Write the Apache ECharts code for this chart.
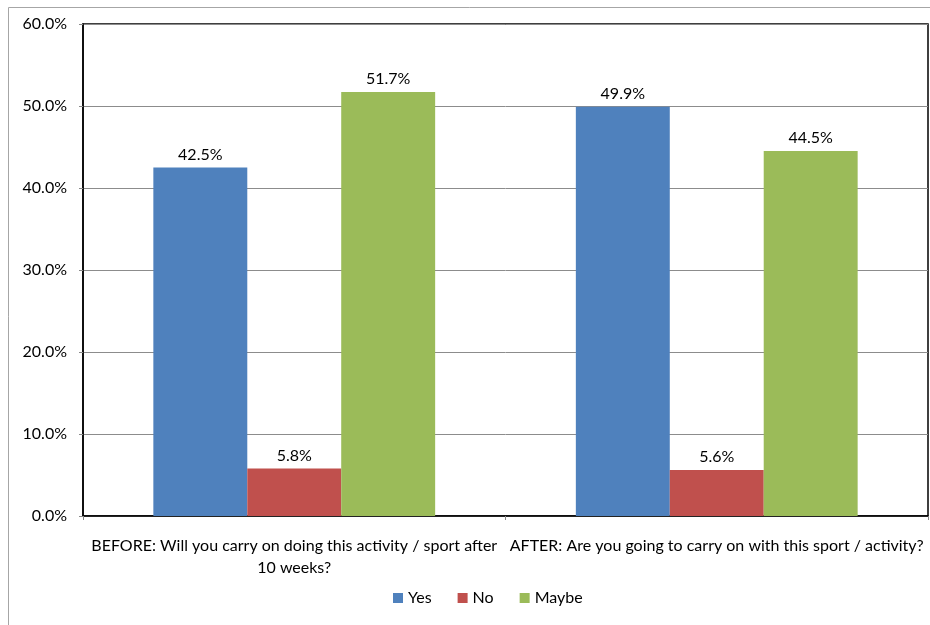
<!DOCTYPE html>
<html><head><meta charset="utf-8">
<script src="https://cdn.jsdelivr.net/npm/echarts@6/dist/echarts.min.js"></script>
<style>html,body{margin:0;padding:0;background:#fff}#c{width:930px;height:625px}</style>
</head><body><div id="c"></div>
<script>
const categories = ["BEFORE: Will you carry on doing this activity / sport after\n10 weeks?", "AFTER: Are you going to carry on with this sport / activity?"];
const yesValues = [42.5, 49.9];
const noValues = [5.8, 5.6];
const maybeValues = [51.7, 44.5];
const seriesNames = ["Yes", "No", "Maybe"];
const colors = ["#4F81BD", "#C0504D", "#9BBB59"];
const font = "Lato, 'Open Sans', sans-serif";

const chart = echarts.init(document.getElementById('c'), null, {renderer: 'canvas'});
const lbl = {show: true, position: 'top', distance: 5, color: '#000', fontFamily: font, fontSize: 16,
  formatter: p => p.value.toFixed(1) + '%'};
const mk = (name, data, i) => ({name, type: 'bar', data, barGap: '0%', barCategoryGap: '33.3%',
  itemStyle: {color: colors[i]}, label: lbl, animation: false});
chart.setOption({
  animation: false,
  graphic: [{type: 'rect', shape: {x: 8.5, y: 7.5, width: 1000, height: 1000},
    style: {fill: 'none', stroke: '#a6a6a6', lineWidth: 1}, silent: true, z: -1}],
  grid: {left: 83, top: 24, right: 2, bottom: 109, show: true, borderColor: '#000', borderWidth: 1.5, containLabel: false},
  legend: {top: 585, left: 388, itemWidth: 10, itemHeight: 10, itemGap: 26,
    icon: 'rect', textStyle: {fontFamily: font, fontSize: 16, color: '#000'}, data: seriesNames},
  xAxis: {type: 'category', data: categories,
    axisLine: {show: true, lineStyle: {color: '#000', width: 1.5}},
    axisTick: {show: true, length: 4, lineStyle: {color: '#888'}, alignWithLabel: false},
    axisLabel: {interval: 0, margin: 19, color: '#000', fontFamily: font, fontSize: 16, lineHeight: 22, align: 'center'}},
  yAxis: {type: 'value', min: 0, max: 60, interval: 10,
    axisLine: {show: true, lineStyle: {color: '#000', width: 1.5}},
    axisTick: {show: true, length: 4, lineStyle: {color: '#888'}},
    splitLine: {show: true, lineStyle: {color: '#8c8c8c', width: 1}},
    axisLabel: {margin: 16, color: '#000', fontFamily: font, fontSize: 16, formatter: v => v.toFixed(1) + '%'}},
  series: [mk(seriesNames[0], yesValues, 0), mk(seriesNames[1], noValues, 1), mk(seriesNames[2], maybeValues, 2)]
});
</script></body></html>
